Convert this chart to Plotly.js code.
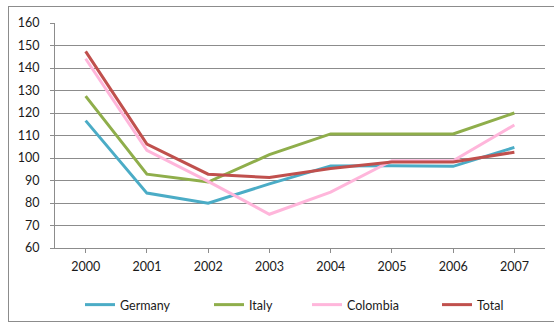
<!DOCTYPE html>
<html>
<head>
<meta charset="utf-8">
<script src="https://cdn.plot.ly/plotly-3.0.1.min.js"></script>
<style>
  html, body { margin: 0; padding: 0; background: #fff; overflow: hidden; }
  #wrap { position: relative; width: 554px; height: 323px; overflow: hidden; }
  #chart { position: absolute; left: 0; top: 0; width: 554px; height: 323px; }
  #frame { position: absolute; left: 8px; top: 6px; width: 560px; height: 314px;
           border: 1px solid #8c8c8c; pointer-events: none; }
</style>
</head>
<body>
<div id="wrap">
  <div id="chart"></div>
  <div id="frame"></div>
</div>
<script>
const years = ['2000', '2001', '2002', '2003', '2004', '2005', '2006', '2007'];
const germany  = [116.6, 84.4, 79.9, 88.5, 96.5, 96.6, 96.3, 104.7];
const italy    = [127.5, 92.8, 89.3, 101.5, 110.7, 110.7, 110.7, 120.0];
const colombia = [144.1, 103.4, 89.6, 75.0, 84.8, 98.8, 98.8, 114.7];
const total    = [147.4, 106.2, 92.8, 91.3, 95.3, 98.2, 98.2, 102.6];

const names  = ['Germany', 'Italy', 'Colombia', 'Total'];
const series = [germany, italy, colombia, total];
const colors = ['#4BACC6', '#8FAE4B', '#FFB6DB', '#C0504D'];
const legendIds = ['legend', 'legend2', 'legend3', 'legend4'];

const traces = series.map((vals, i) => ({
  x: years,
  y: vals,
  name: names[i],
  type: 'scatter',
  mode: 'lines',
  line: { color: colors[i], width: 3 },
  legend: legendIds[i],
  hoverinfo: 'skip'
}));

const plotL = 55, plotR = 9, plotT = 23, plotB = 75;
const legendStarts = [85, 214, 312, 442];
const legendFont = { family: 'Lato, Calibri, sans-serif', size: 12.5, color: '#1a1a1a' };

const layout = {
  width: 554, height: 323,
  margin: { l: plotL, r: plotR, t: plotT, b: plotB, autoexpand: false },
  paper_bgcolor: '#ffffff',
  plot_bgcolor: '#ffffff',
  font: { family: 'Lato, Calibri, sans-serif', size: 12.5, color: '#1a1a1a' },
  xaxis: {
    type: 'category',
    range: [-0.5, 7.5],
    showgrid: false,
    zeroline: false,
    showline: true,
    linecolor: '#8c8c8c',
    linewidth: 1,
    ticks: 'outside',
    ticklen: 4,
    tickcolor: '#8c8c8c',
    ticklabelstandoff: 3,
    fixedrange: true
  },
  yaxis: {
    range: [60, 160],
    dtick: 10,
    tick0: 60,
    showgrid: true,
    gridcolor: '#8c8c8c',
    gridwidth: 1,
    zeroline: false,
    showline: true,
    linecolor: '#8c8c8c',
    linewidth: 1,
    ticks: 'outside',
    ticklen: 4,
    tickcolor: '#8c8c8c',
    ticklabelstandoff: 8,
    fixedrange: true
  },
  showlegend: true
};

legendIds.forEach((id, i) => {
  layout[id] = {
    xref: 'container',
    yref: 'container',
    x: (legendStarts[i] - 5) / 554,
    xanchor: 'left',
    y: 1 - 305 / 323,
    yanchor: 'middle',
    orientation: 'h',
    bgcolor: 'rgba(0,0,0,0)',
    borderwidth: 0,
    itemwidth: 30,
    font: legendFont
  };
});

Plotly.newPlot('chart', traces, layout, { staticPlot: true, displayModeBar: false });
</script>
</body>
</html>
